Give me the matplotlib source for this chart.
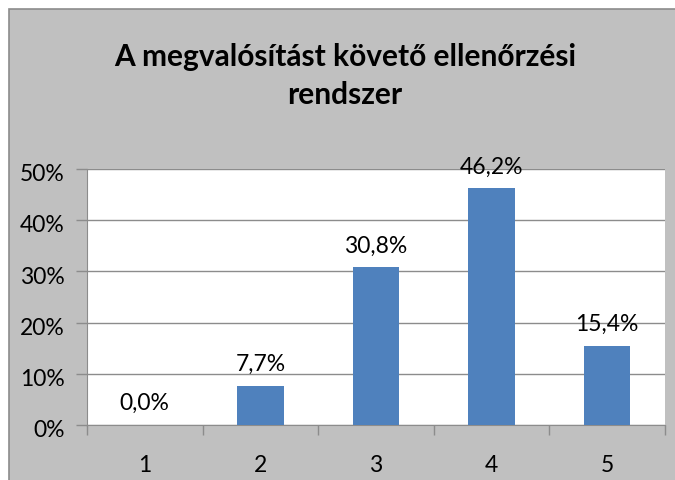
import numpy as np
import matplotlib
matplotlib.use('Agg')
import matplotlib.pyplot as plt
import matplotlib.transforms as mtransforms
from matplotlib.patches import Rectangle
from matplotlib.ticker import FixedLocator, NullFormatter

categories = ["1", "2", "3", "4", "5"]
shares = [0.0, 7.7, 30.8, 46.2, 15.4]
yticks = [0, 10, 20, 30, 40, 50]
title = "A megvalósítást követő ellenőrzési\nrendszer"

plt.rcParams['font.family'] = ['Lato', 'DejaVu Sans']
fs = 16.5

W, H = 675, 481
fig = plt.figure(figsize=(W / 100, H / 100), dpi=100, facecolor="white")

# gray chart panel with a darker frame on the left and top (runs off the bottom/right)
fig.patches.append(Rectangle((9 / W, -0.02), 1, 1.02 - 10 / H, transform=fig.transFigure,
                             facecolor="#c0c0c0", edgecolor="#8c8c8c", linewidth=1.2,
                             zorder=-10))

ax = fig.add_axes([87 / W, 1 - 426 / H, (665 - 87) / W, (426 - 170) / H])
ax.set_facecolor("white")

x = np.arange(len(categories))
ax.bar(x, shares, width=0.4, color="#4f81bd", zorder=3)

for xi, v in zip(x, shares):
    ax.text(xi, v + 3.1, "{0:.1f}%".format(v).replace(".", ","), ha="center", va="baseline",
            fontsize=fs, color="black", zorder=4)

ax.set_xlim(-0.5, len(categories) - 0.5)
ax.set_ylim(0, 50)
ax.set_yticks(yticks)
ax.set_yticklabels(["{0}%".format(t) for t in yticks])
ax.yaxis.grid(True, color="#8c8c8c", linewidth=1.0, zorder=1)
ax.set_axisbelow(True)

# category labels centred, ticks on the category boundaries
ax.set_xticks(x)
ax.set_xticklabels(categories)
ax.xaxis.set_minor_locator(FixedLocator(np.arange(-0.5, len(categories), 1.0)))
ax.xaxis.set_minor_formatter(NullFormatter())
ax.tick_params(axis="x", which="major", length=0, pad=21, labelsize=fs)
ax.tick_params(axis="x", which="minor", length=7, width=1, color="#8c8c8c", direction="out")
ax.tick_params(axis="y", length=8, width=1, color="#8c8c8c", direction="out", pad=8,
               labelsize=fs)

# percentage labels sit a touch below their gridlines
shift = mtransforms.ScaledTranslation(0, -2 / 72, fig.dpi_scale_trans)
for lbl in ax.get_yticklabels():
    lbl.set_transform(lbl.get_transform() + shift)

for side in ["top", "right"]:
    ax.spines[side].set_visible(False)
ax.spines["left"].set_color("#8c8c8c")
ax.spines["bottom"].set_color("#8c8c8c")

fig.text(345 / W, 1 - 76 / H, title, ha="center", va="center", fontsize=21.5,
         fontweight="bold", linespacing=1.47)

fig.savefig("out.png", dpi=100, facecolor=fig.get_facecolor())
